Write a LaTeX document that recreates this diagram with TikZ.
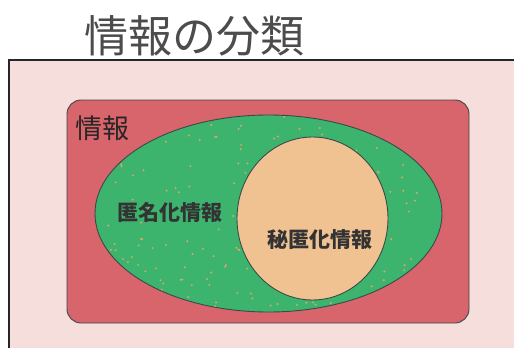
\documentclass[tikz,border=0pt]{standalone}
\usepackage{fontspec}
\newfontfamily\cjk{Noto Sans CJK JP}
\definecolor{bgpink}{HTML}{F6DEDD}
\definecolor{boxred}{HTML}{D8646C}
\definecolor{setgreen}{HTML}{3DB46E}
\definecolor{setorange}{HTML}{F0C292}
\definecolor{speck}{HTML}{D9A868}
\definecolor{edge}{HTML}{3A4A48}
\begin{document}
\begin{tikzpicture}[x=1pt,y=-1pt,
  setline/.style={draw=edge,line width=0.9pt},
  lbl/.style={font=\cjk\bfseries\fontsize{21}{21}\selectfont,text=black!80,inner sep=0pt}]
\useasboundingbox (0,0) rectangle (514,348);
\fill[white] (0,0) rectangle (514,348);
% title
\node[font=\cjk\fontsize{44}{44}\selectfont,text=black!70,inner sep=0pt] (title) at (194,36) {情報の分類};
% slide frame
\fill[bgpink] (9,60) rectangle (514,348);
\draw[black!85,line width=2pt] (9,348) -- (9,60) -- (514,60);
% outer set
\draw[setline,fill=boxred,rounded corners=14pt] (67,100) rectangle (469,323);
\node[font=\cjk\fontsize{27}{27}\selectfont,text=black!85,inner sep=0pt,anchor=west] (info) at (75,128) {情報};
% green ellipse
\coordinate (ec) at (268.5,213.5);
\fill[setgreen] (ec) ellipse[x radius=173.5,y radius=98.5];
\begin{scope}
\clip (ec) ellipse[x radius=173.5,y radius=98.5];
\pgfmathsetseed{7}
\foreach \i in {1,...,190}{
  \pgfmathsetmacro\px{95+347*rnd}
  \pgfmathsetmacro\py{115+197*rnd}
  \fill[speck] (\px,\py) circle[radius=1.1];
}
\end{scope}
\draw[setline] (ec) ellipse[x radius=173.5,y radius=98.5];
% orange circle
\draw[setline,fill=setorange] (312.5,218.5) ellipse[x radius=75.5,y radius=81.5];
\node[lbl] (anon) at (170,212) {匿名化情報};
\node[lbl] (secret) at (320,240) {秘匿化情報};
\end{tikzpicture}
\end{document}
